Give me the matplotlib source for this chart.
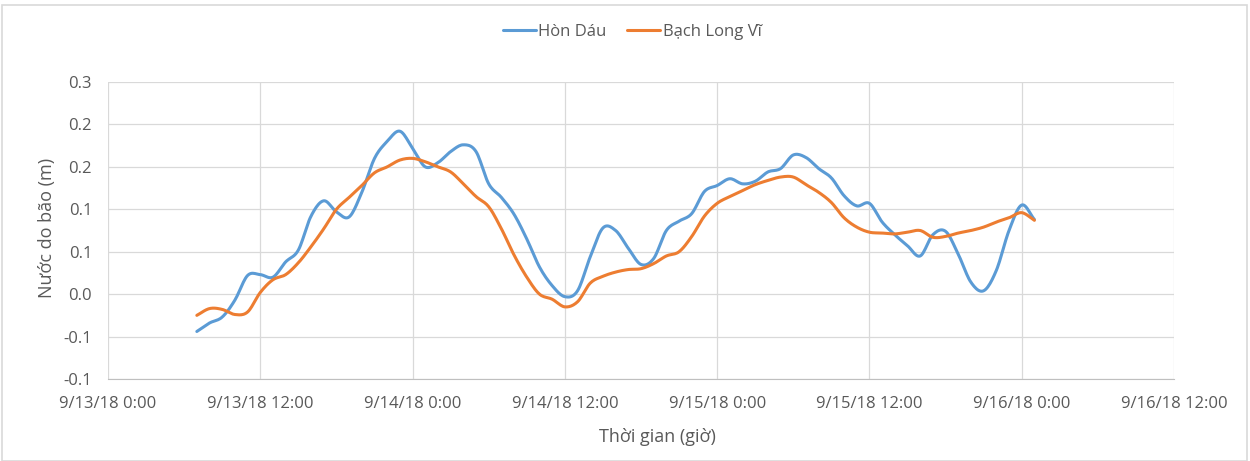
import numpy as np
import matplotlib
matplotlib.use("Agg")
import matplotlib.pyplot as plt
from matplotlib.patches import Rectangle

# hours since 9/13/18 0:00
start_hour = 7
hon_dau = [-0.044, -0.034, -0.027, -0.007, 0.022, 0.023, 0.020, 0.038, 0.052, 0.092,
           0.110, 0.097, 0.091, 0.120, 0.160, 0.180, 0.192, 0.172, 0.150, 0.155,
           0.168, 0.176, 0.168, 0.130, 0.114, 0.094, 0.065, 0.032, 0.010, -0.003,
           0.004, 0.044, 0.078, 0.075, 0.054, 0.035, 0.042, 0.075, 0.086, 0.095,
           0.121, 0.128, 0.136, 0.130, 0.133, 0.144, 0.148, 0.164, 0.161, 0.148,
           0.137, 0.116, 0.104, 0.107, 0.085, 0.070, 0.057, 0.045, 0.070, 0.074,
           0.047, 0.014, 0.004, 0.028, 0.075, 0.105, 0.088]
bach_long_vi = [-0.025, -0.017, -0.018, -0.024, -0.021, 0.002, 0.017, 0.023, 0.037, 0.056,
                0.077, 0.100, 0.114, 0.128, 0.143, 0.150, 0.158, 0.160, 0.156, 0.150,
                0.144, 0.130, 0.115, 0.103, 0.077, 0.046, 0.020, 0.000, -0.006, -0.015,
                -0.009, 0.013, 0.021, 0.026, 0.029, 0.030, 0.036, 0.045, 0.050, 0.068,
                0.092, 0.107, 0.115, 0.122, 0.129, 0.134, 0.138, 0.138, 0.129, 0.120,
                0.108, 0.090, 0.079, 0.073, 0.072, 0.071, 0.073, 0.075, 0.067, 0.068,
                0.072, 0.075, 0.079, 0.085, 0.090, 0.096, 0.087]
series_names = ["Hòn Dáu", "Bạch Long Vĩ"]
x_tick_labels = ["9/13/18 0:00", "9/13/18 12:00", "9/14/18 0:00", "9/14/18 12:00",
                 "9/15/18 0:00", "9/15/18 12:00", "9/16/18 0:00", "9/16/18 12:00"]
y_ticks = [-0.1, -0.05, 0.0, 0.05, 0.1, 0.15, 0.2, 0.25]
y_tick_labels = ["-0.1", "-0.1", "0.0", "0.1", "0.1", "0.2", "0.2", "0.3"]


def smooth(x, y, n=12):
    """Catmull-Rom rendering of the polyline (like Excel's smoothed line)."""
    x = np.asarray(x, float); y = np.asarray(y, float)
    px = np.concatenate([[2 * x[0] - x[1]], x, [2 * x[-1] - x[-2]]])
    py = np.concatenate([[2 * y[0] - y[1]], y, [2 * y[-1] - y[-2]]])
    t = np.linspace(0, 1, n, endpoint=False)
    xs, ys = [], []
    for i in range(1, len(px) - 2):
        for arr, out in ((px, xs), (py, ys)):
            p0, p1, p2, p3 = arr[i - 1], arr[i], arr[i + 1], arr[i + 2]
            out.extend(0.5 * (2 * p1 + (-p0 + p2) * t + (2 * p0 - 5 * p1 + 4 * p2 - p3) * t ** 2
                              + (-p0 + 3 * p1 - 3 * p2 + p3) * t ** 3))
    xs.append(x[-1]); ys.append(y[-1])
    return np.array(xs), np.array(ys)


hours = np.arange(start_hour, start_hour + len(hon_dau))
W, H = 1250, 461
TXT = "#595959"
FONT = "Open Sans"

fig = plt.figure(figsize=(W / 100, H / 100), dpi=100)
ax = fig.add_axes([108 / W, 1 - 379 / H, (1174 - 108) / W, (379 - 82) / H])

colors = ["#5B9BD5", "#ED7D31"]
for vals, name, c in zip([hon_dau, bach_long_vi], series_names, colors):
    sx, sy = smooth(hours, vals)
    ax.plot(sx, sy, color=c, lw=2.2, label=name, solid_capstyle="round")

ax.set_xlim(0, 84)
ax.set_ylim(-0.1, 0.25)
ax.set_xticks(np.arange(0, 85, 12))
ax.set_xticklabels(x_tick_labels)
ax.set_yticks(y_ticks)
ax.set_yticklabels(y_tick_labels)
ax.grid(True, color="#D9D9D9", lw=0.9)
ax.set_axisbelow(True)
for s in ["top", "right", "left"]:
    ax.spines[s].set_visible(False)
ax.spines["bottom"].set_color("#BFBFBF")
ax.tick_params(length=0, labelsize=12, labelcolor=TXT)
ax.tick_params(axis="x", pad=12)
ax.tick_params(axis="y", pad=11.5)
for lab in ax.get_xticklabels() + ax.get_yticklabels():
    lab.set_family(FONT)

fig.text(47 / W, 1 - 228 / H, "Nước do bão (m)", rotation=90, ha="center", va="center",
         fontsize=13, color=TXT, family=FONT)
fig.text(657 / W, 1 - 437 / H, "Thời gian (giờ)", ha="center", va="center",
         fontsize=13, color=TXT, family=FONT)

leg = fig.legend(loc="center", bbox_to_anchor=(632 / W, 1 - 32 / H), ncol=2, frameon=False,
                 prop={"family": FONT, "size": 12}, handlelength=2.0,
                 columnspacing=1.2, handletextpad=0.15)
for t in leg.get_texts():
    t.set_color(TXT)

fig.patches.append(Rectangle((2 / W, 0), 1245 / W, 1 - 5 / H, transform=fig.transFigure,
                             fill=False, edgecolor="#D9D9D9", lw=1.2))

fig.savefig("out.png", dpi=100)
